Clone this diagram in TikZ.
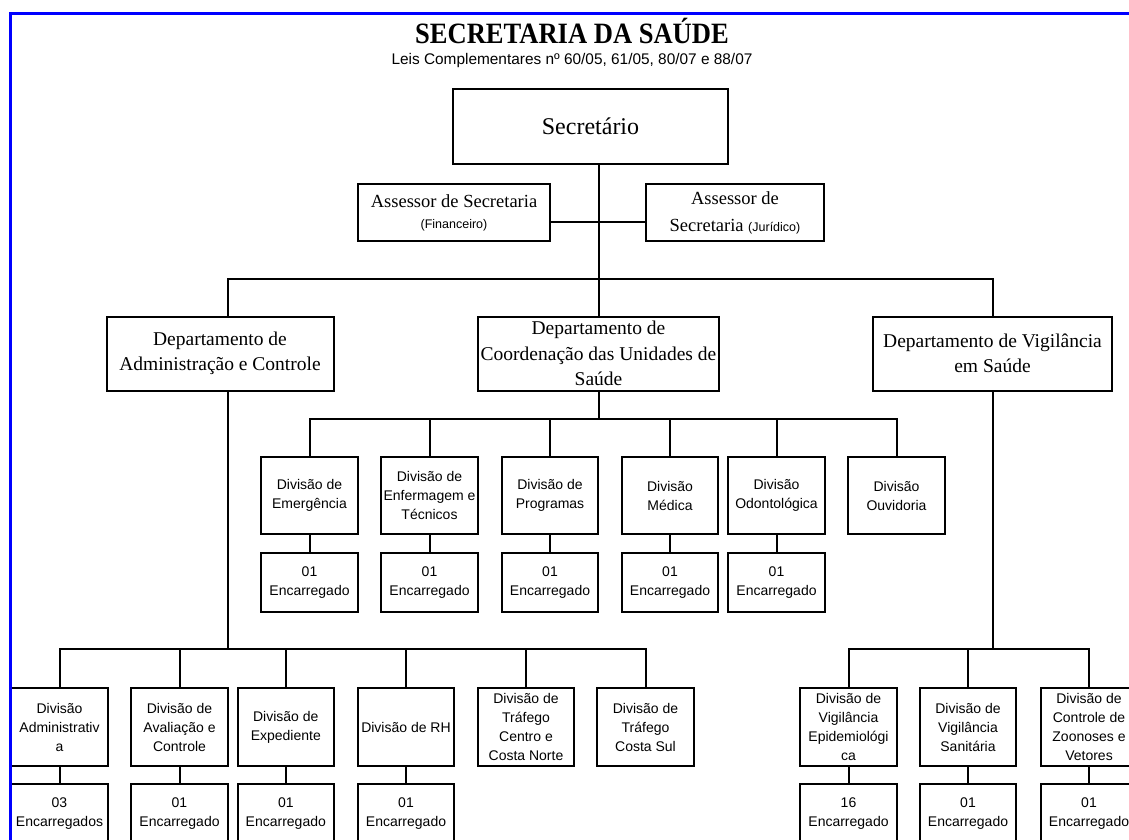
\documentclass[tikz,border=0pt]{standalone}
\usepackage{fontspec}
\setmainfont{Liberation Serif}
\newfontfamily\divfont{Liberation Sans}
\newfontfamily\titlefont[FakeStretch=0.9]{Liberation Serif}
\newcommand{\notefont}{\divfont\fontsize{12.5}{15}\selectfont}
\usetikzlibrary{positioning,calc}

\begin{document}
\begin{tikzpicture}[x=1pt,y=-1pt,line width=2pt,every node/.append style={align=center,inner sep=0pt}]
    \tikzstyle{secbox}=[draw, fill=white, minimum width=275, minimum height=75, font=\fontsize{24}{28}\selectfont]
    \tikzstyle{assbox}=[draw, fill=white, minimum height=57, font=\fontsize{18.5}{24}\selectfont]
    \tikzstyle{depbox}=[draw, fill=white, minimum height=74, font=\fontsize{19.5}{25.5}\selectfont]
    \tikzstyle{divbox}=[draw, fill=white, minimum width=96.5, minimum height=77.5, font=\divfont\fontsize{14}{19}\selectfont]
    \tikzstyle{encbox}=[divbox, minimum height=59]
    \useasboundingbox (0,0) rectangle (1129,839);
    \clip (0,0) rectangle (1129,839);
    \fill[white] (0,0) rectangle (1129,839);
    % titles
    \node (title) at (572,31) {\titlefont\bfseries\fontsize{29.5}{32}\selectfont SECRETARIA DA SAÚDE};
    \node (laws) at (572,61) {\divfont\fontsize{15.4}{18}\selectfont Leis Complementares nº 60/05, 61/05, 80/07 e 88/07};
    % top
    \node[secbox] (sec) at (590.5,126.5) {Secretário};
    \node[assbox, minimum width=192] (asf) at (454,212.5) {Assessor de Secretaria\\[-3pt]{\notefont (Financeiro)}};
    \node[assbox, minimum width=178] (asj) at (735,212.5) {Assessor de\\[3pt]Secretaria {\notefont(Jurídico)}};
    \node[depbox, minimum width=227] (dac) at (220,353.5) {Departamento de\\Administração e Controle};
    \node[depbox, minimum width=241] (dcus) at (598.5,353.5) {Departamento de\\Coordenação das Unidades de\\Saúde};
    \node[depbox, minimum width=239] (dvs) at (992.5,353.5) {Departamento de Vigilância\\em Saúde};
    \coordinate (bus0) at (598.5,279);
    \coordinate (busM) at (598.5,419);
    \coordinate (busL) at (227.5,649);
    \coordinate (busR) at (992.5,649);
    \draw (dcus.north) -- (dcus.north |- sec.south);
    \draw ([yshift=-9pt]asf.east) -- ([yshift=-9pt]asj.west);
    \draw ([xshift=7.5pt]dac.north) |- (bus0) -| (dvs.north);
    \draw ([xshift=7.5pt]dac.south) -- (busL);
    \draw (dcus.south) -- (busM);
    \draw (dvs.south) -- (busR);
    % divisions of the coordination
    \foreach \n/\x/\txt in {emg/309.5/{Divisão de\\Emergência},enf/429.5/{Divisão de\\Enfermagem e\\Técnicos},prg/550/{Divisão de\\Programas},med/670/{Divisão\\Médica},odo/776.5/{Divisão\\Odontológica},ouv/896.5/{Divisão\\Ouvidoria}} {
        \node[divbox] (\n) at (\x,495.5) {\txt};
        \draw (busM) -| (\n.north);
    }
    \foreach \n in {emg,enf,prg,med,odo} {
        \node[encbox] (e\n) at (\n |- 0,582.5) {01\\Encarregado};
        \draw (\n.south) -- (e\n.north);
    }
    % divisions of administration
    \foreach \n/\x/\txt in {adm/59.5/{Divisão\\Administrativ\\a},aval/179.5/{Divisão de\\Avaliação e\\Controle},exp/285.8/{Divisão de\\Expediente},rh/406/{Divisão de RH},tcn/526/{Divisão de\\Tráfego\\Centro e\\Costa Norte},tcs/645.5/{Divisão de\\Tráfego\\Costa Sul}} {
        \node[divbox] (\n) at (\x,727) {\txt};
        \draw (busL) -| (\n.north);
    }
    % divisions of surveillance
    \foreach \n/\x/\txt in {epi/848.5/{Divisão de\\Vigilância\\Epidemiológi\\ca},san/968/{Divisão de\\Vigilância\\Sanitária},zoo/1089/{Divisão de\\Controle de\\Zoonoses e\\Vetores}} {
        \node[divbox] (\n) at (\x,727) {\txt};
        \draw (busR) -| (\n.north);
    }
    \foreach \n/\num in {adm/{03\\Encarregados},aval/{01\\Encarregado},exp/{01\\Encarregado},rh/{01\\Encarregado},epi/{16\\Encarregado},san/{01\\Encarregado},zoo/{01\\Encarregado}} {
        \node[encbox] (e\n) at (\n |- 0,813.5) {\num};
        \draw (\n.south) -- (e\n.north);
    }
    % frame
    \draw[blue, line width=3pt] (10.5,845) -- (10.5,13.5) -- (1135,13.5);
\end{tikzpicture}
\end{document}
